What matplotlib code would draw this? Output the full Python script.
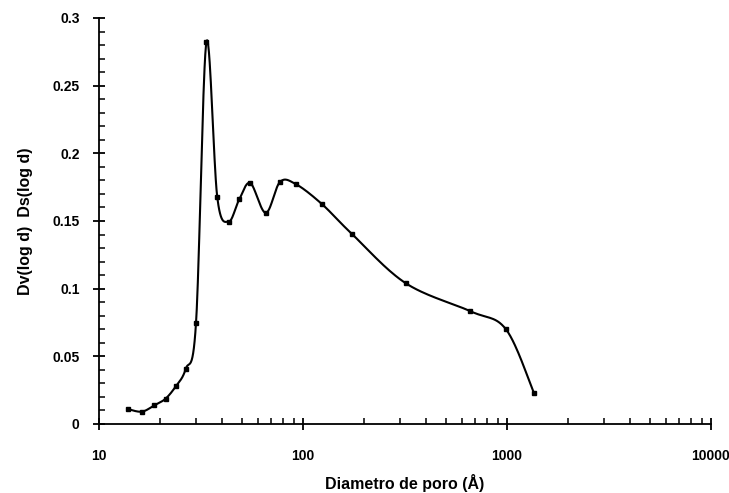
import numpy as np
import matplotlib
matplotlib.use('Agg')
import matplotlib.pyplot as plt
from matplotlib.ticker import LogLocator, MultipleLocator, FuncFormatter, NullFormatter

# Dados
diametro = [13.8, 16.2, 18.7, 21.2, 23.8, 26.6, 29.9, 33.6, 38.0, 43.2, 48.7,
            55.2, 65.7, 77.1, 92.1, 123.6, 173.8, 319, 662, 988, 1355]
dv = [0.0111, 0.0091, 0.0138, 0.0187, 0.0279, 0.0406, 0.0749, 0.282, 0.1675,
      0.1495, 0.166, 0.178, 0.156, 0.1788, 0.1773, 0.1626, 0.1404, 0.104,
      0.0833, 0.070, 0.0229]

plt.rcParams['font.family'] = ['Liberation Sans', 'DejaVu Sans']
plt.rcParams['font.weight'] = 'bold'
plt.rcParams['xtick.labelsize'] = 10
plt.rcParams['ytick.labelsize'] = 10

fig = plt.figure(figsize=(7.29, 4.93), dpi=100)
ax = fig.add_axes([0.1358, 0.14, 0.8395, 0.8235])
ax.set_xscale('log')
ax.set_xlim(10, 10000)
ax.set_ylim(0, 0.3)

# curva suavizada (estilo Excel) em coordenadas de tela
fig.canvas.draw()
pts = ax.transData.transform(np.column_stack([diametro, dv]))
p = np.vstack([pts[0], pts, pts[-1]])
curva = []
for i in range(1, len(p) - 2):
    p0, p1, p2, p3 = p[i - 1], p[i], p[i + 1], p[i + 2]
    c1 = p1 + (p2 - p0) / 6
    c2 = p2 - (p3 - p1) / 6
    t = np.linspace(0, 1, 30)[:, None]
    seg = (1 - t) ** 3 * p1 + 3 * (1 - t) ** 2 * t * c1 + 3 * (1 - t) * t ** 2 * c2 + t ** 3 * p2
    curva.append(seg)
curva = ax.transData.inverted().transform(np.vstack(curva))
ax.plot(curva[:, 0], curva[:, 1], color='black', lw=1.5)
ax.plot(diametro, dv, 's', color='black', ms=3.5)

for s in ['top', 'right']:
    ax.spines[s].set_visible(False)
for s in ['left', 'bottom']:
    ax.spines[s].set_linewidth(1.3)

ax.yaxis.set_major_locator(MultipleLocator(0.05))
ax.yaxis.set_minor_locator(MultipleLocator(0.01))
ax.yaxis.set_major_formatter(FuncFormatter(lambda v, _: '0' if v == 0 else f'{v:g}'))
ax.xaxis.set_major_locator(LogLocator(base=10))
ax.xaxis.set_minor_locator(LogLocator(base=10, subs=np.arange(2, 10)))
ax.xaxis.set_major_formatter(FuncFormatter(lambda v, _: f'{v:.0f}'))
ax.xaxis.set_minor_formatter(NullFormatter())
ax.tick_params(which='major', direction='inout', length=8, width=1.3)
ax.tick_params(which='minor', direction='in', length=4, width=1.1)
ax.tick_params(axis='x', which='major', pad=14)
ax.tick_params(axis='y', which='major', pad=10)

fonte = dict(weight='bold', size=11.5)
ax.set_xlabel('Diametro de poro (Å)', labelpad=8, **fonte)
ax.set_ylabel('Dv(log d)  Ds(log d)', labelpad=14, **fonte)

fig.savefig('out.png', dpi=100)
